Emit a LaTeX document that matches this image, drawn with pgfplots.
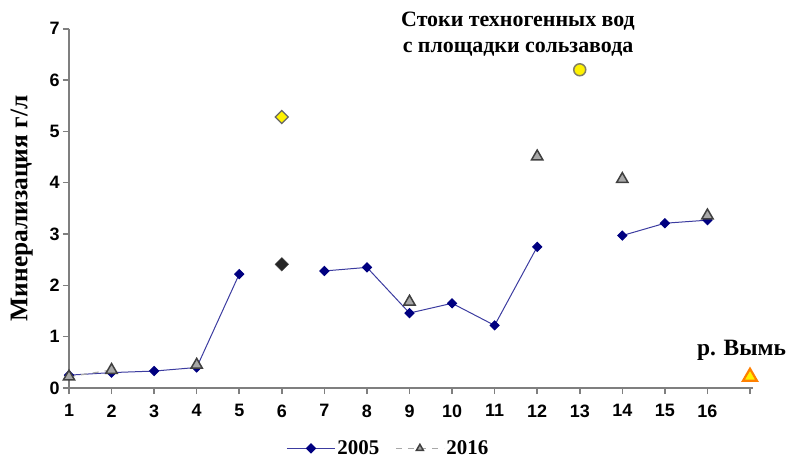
\documentclass[border=0pt]{standalone}
\usepackage{fontspec}
\setmainfont{Liberation Serif}
\newfontfamily\arialfont{Liberation Sans}
\usepackage{pgfplots}
\pgfplotsset{compat=1.18}

\definecolor{line05}{HTML}{3C3CA0}
\definecolor{mark05}{HTML}{000080}
\definecolor{tri16}{HTML}{A8A8A8}
\definecolor{edge16}{HTML}{404040}
\definecolor{axgray}{HTML}{7F7F7F}

\begin{document}
\begin{tikzpicture}
  \begin{axis}[
      scale only axis,
      width=681bp, height=359.3bp,
      xmin=1, xmax=17, ymin=0, ymax=7,
      axis lines*=left,
      axis line style={draw=axgray, line width=2.4bp},
      clip=false,
      xtick={1,...,17},
      xticklabels={1,2,3,4,5,6,7,8,9,10,11,12,13,14,15,16,{}},
      ytick={0,...,7},
      tick style={axgray, line width=1.6bp},
      tick align=outside,
      major tick length=6bp,
      /pgf/number format/assume math mode=true,
      tick label style={font=\arialfont\bfseries\fontsize{18}{18}\selectfont},
      xticklabel style={yshift=-7bp},
      ylabel={\bfseries Минерализация г/л},
      ylabel style={font=\fontsize{25.5}{25.5}\selectfont, yshift=10bp},
      unbounded coords=jump,
      legend columns=2,
      legend style={at={(rel axis cs:0.469,-0.168)}, anchor=center, draw=none,
        fill=none, inner sep=1bp,
        font=\bfseries\fontsize{21}{21}\selectfont,
        /tikz/every even column/.append style={column sep=14bp}},
      legend image code/.code={
        \draw[mark repeat=2,mark phase=2] plot coordinates {(0bp,0bp)(24bp,0bp)(48bp,0bp)};},
    ]

  % axis lines, thick gray as in the original
  \draw[axgray, line width=2.4bp] (rel axis cs:0,1) -- (rel axis cs:0,0) -- (rel axis cs:1.004,0);

  % 2005
  \addplot[line05, line width=1bp, mark=square*, mark size=3.2bp,
           mark options={solid, rotate=45, fill=mark05, draw=mark05}]
  coordinates {
    (1,0.25) (2,0.30) (3,0.33) (4,0.40) (5,2.22) (6,nan)
    (7,2.28) (8,2.35) (9,1.46) (10,1.65) (11,1.22) (12,2.75) (13,nan)
    (14,2.97) (15,3.21) (16,3.27)
  };
  \addlegendentry{2005}

  % 2016
  \addplot[tri16, line width=1.2bp, dash pattern=on 6bp off 6bp, mark=triangle*, mark size=6.5bp,
           mark options={solid, fill=tri16, draw=edge16, line width=1.5bp},
           legend image post style={mark size=4bp}]
  coordinates {
    (1,0.22) (2,0.35) (3,nan) (4,0.45) (5,nan) (9,1.68) (10,nan)
    (12,4.51) (13,nan) (14,4.07) (15,nan) (16,3.36)
  };
  \addlegendentry{2016}

  % separate points
  \addplot[only marks, mark=square*, mark size=4.8bp,
           mark options={rotate=45, fill=black!85, draw=black!70}, forget plot]
  coordinates {(6,2.41)};
  \addplot[only marks, mark=square*, mark size=4.6bp,
           mark options={rotate=45, fill=yellow, draw=gray!80!black, line width=1.2bp}, forget plot]
  coordinates {(6,5.28)};
  \addplot[only marks, mark=*, mark size=6bp,
           mark options={fill=yellow, draw=black!60!yellow!60!gray, line width=1.5bp}, forget plot]
  coordinates {(13,6.20)};
  \addplot[only marks, mark=triangle*, mark size=8bp,
           mark options={fill=yellow, draw=orange, line width=2.2bp}, forget plot]
  coordinates {(17,0.22)};

  \node[align=center, font=\bfseries\fontsize{22}{26}\selectfont]
    at (axis cs:11.55,6.90) {Стоки техногенных вод\\с площадки сользавода};
  \node[font=\bfseries\fontsize{23.5}{23.5}\selectfont] at (axis cs:16.8,0.74) {р. Вымь};
  \end{axis}
  \pgfresetboundingbox
  \path[use as bounding box] (-69bp,-73bp) rectangle (718bp,388bp);
\end{tikzpicture}
\end{document}
